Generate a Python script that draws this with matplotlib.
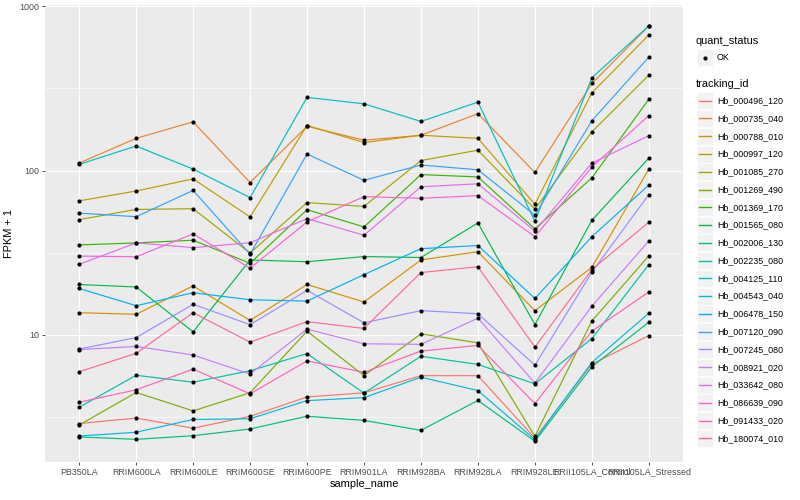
import numpy as np
import matplotlib
matplotlib.use("Agg")
import matplotlib.pyplot as plt
from matplotlib.patches import Rectangle
from matplotlib.lines import Line2D
from matplotlib.ticker import FixedLocator, NullFormatter

plt.rcParams['font.family'] = ['Liberation Sans', 'DejaVu Sans']

samples = ["PB350LA", "RRIM600LA", "RRIM600LE", "RRIM600SE", "RRIM600PE",
           "RRIM901LA", "RRIM928BA", "RRIM928LA", "RRIM928LE",
           "RRII105LA_Control", "RRII105LA_Stressed"]

tracking_ids = ["Hb_000496_120", "Hb_000735_040", "Hb_000788_010", "Hb_000997_120",
                "Hb_001085_270", "Hb_001269_490", "Hb_001369_170", "Hb_001565_080",
                "Hb_002006_130", "Hb_002235_080", "Hb_004125_110", "Hb_004543_040",
                "Hb_006478_150", "Hb_007120_090", "Hb_007245_080", "Hb_008921_020",
                "Hb_033642_080", "Hb_086639_090", "Hb_091433_020", "Hb_180074_010"]

# FPKM + 1 per sample
hb_000496_120 = [2.87, 3.10, 2.69, 3.18, 4.17, 4.42, 5.62, 5.62, 2.34, 6.61, 9.86]
hb_000735_040 = [111, 157, 198, 84.5, 186, 153, 164, 222, 97.3, 339, 759]
hb_000788_010 = [13.6, 13.3, 19.8, 12.2, 20.2, 15.8, 28.5, 32.0, 14.0, 25.7, 102]
hb_000997_120 = [65.3, 75.0, 88.9, 52.1, 188, 148, 164, 157, 62.3, 297, 670]
hb_001085_270 = [50.2, 57.9, 58.5, 31.4, 63.8, 60.4, 115, 133, 58.2, 172, 381]
hb_001269_490 = [2.81, 4.44, 3.43, 4.42, 10.5, 5.62, 10.1, 8.91, 2.40, 12.1, 30.2]
hb_001369_170 = [35.2, 36.2, 37.6, 27.2, 57.7, 45.3, 94.4, 91.4, 44.1, 90.2, 272]
hb_001565_080 = [20.2, 19.5, 10.4, 28.5, 27.8, 29.9, 29.5, 47.9, 11.5, 49.7, 119]
hb_002006_130 = [2.38, 2.30, 2.42, 2.66, 3.18, 3.00, 2.61, 3.97, 2.24, 6.36, 11.9]
hb_002235_080 = [3.61, 5.65, 5.13, 6.02, 7.66, 4.40, 7.38, 6.58, 5.01, 9.46, 26.7]
hb_004125_110 = [109, 141, 102, 68.4, 279, 255, 199, 261, 49.1, 367, 762]
hb_004543_040 = [2.41, 2.54, 3.04, 3.07, 3.96, 4.13, 5.50, 4.56, 2.29, 6.76, 13.5]
hb_006478_150 = [19.1, 15.0, 18.0, 16.3, 16.0, 23.2, 33.4, 34.9, 16.6, 39.5, 81.5]
hb_007120_090 = [55.0, 52.3, 75.6, 30.9, 126, 87.1, 108, 101, 53.5, 201, 491]
hb_007245_080 = [8.16, 9.59, 15.3, 11.5, 18.6, 11.8, 14.0, 13.4, 6.51, 24.0, 71.3]
hb_008921_020 = [8.10, 8.47, 7.51, 5.75, 10.8, 8.79, 8.72, 12.6, 5.06, 14.9, 37.2]
hb_033642_080 = [26.8, 36.2, 33.9, 36.3, 50.9, 40.3, 79.6, 83.0, 42.7, 111, 163]
hb_086639_090 = [30.1, 29.8, 41.1, 25.4, 48.6, 69.3, 67.7, 70.3, 39.5, 105, 216]
hb_091433_020 = [3.87, 4.61, 6.16, 4.36, 6.91, 5.89, 7.94, 8.59, 3.80, 10.5, 18.2]
hb_180074_010 = [5.94, 7.69, 13.6, 8.99, 12.0, 10.9, 23.9, 25.9, 8.39, 24.9, 48.4]

series = [hb_000496_120, hb_000735_040, hb_000788_010, hb_000997_120, hb_001085_270,
          hb_001269_490, hb_001369_170, hb_001565_080, hb_002006_130, hb_002235_080,
          hb_004125_110, hb_004543_040, hb_006478_150, hb_007120_090, hb_007245_080,
          hb_008921_020, hb_033642_080, hb_086639_090, hb_091433_020, hb_180074_010]

# ggplot hue palette for 20 levels
colors = ["#F8766D", "#EA8331", "#D89000", "#C09B00", "#A3A500", "#7CAE00", "#39B600",
          "#00BB4E", "#00BF7D", "#00C1A3", "#00BFC4", "#00BAE0", "#00B0F6", "#35A2FF",
          "#9590FF", "#C77CFF", "#E76BF3", "#FA62DB", "#FF62BC", "#FF6C91"]

W, H = 800, 500
fig = plt.figure(figsize=(W / 100, H / 100), dpi=100)
ax = fig.add_axes([45 / W, 38 / H, 638 / W, 457 / H])
ax.set_facecolor("#EBEBEB")
for s in ax.spines.values():
    s.set_visible(False)

x = np.arange(len(samples))
for vals, col in zip(series, colors):
    ax.plot(x, vals, color=col, lw=0.85, zorder=2)
for vals in series:
    ax.plot(x, vals, 'o', color='black', ms=3.0, mec='none', zorder=3)

ax.set_yscale('log')
allv = np.log10(np.concatenate([np.array(v, dtype=float) for v in series]))
lo, hi = allv.min(), allv.max()
pad = 0.05 * (hi - lo)
ax.set_ylim(10 ** (lo - pad), 10 ** (hi + pad))
ax.set_xlim(-0.6, len(samples) - 0.4)

ax.yaxis.set_major_locator(FixedLocator([10, 100, 1000]))
ax.set_yticklabels(["10", "100", "1000"])
ax.yaxis.set_minor_locator(FixedLocator([10 ** 0.5, 10 ** 1.5, 10 ** 2.5]))
ax.yaxis.set_minor_formatter(NullFormatter())
ax.set_xticks(x)
ax.set_xticklabels(samples)

ax.grid(which='major', color='white', lw=0.8)
ax.grid(which='minor', axis='y', color='white', lw=0.4)
ax.set_axisbelow(True)
ax.tick_params(which='major', length=2.2, width=0.6, color='#333333',
               labelsize=6.4, labelcolor='#4D4D4D', pad=1.8)
ax.tick_params(which='minor', length=0)

ax.set_xlabel("sample_name", fontsize=7.9, labelpad=2)
ax.set_ylabel("FPKM + 1", fontsize=7.9, labelpad=4)


def fx(px):
    return px / W


def fy(py):
    return 1 - py / H


# legend drawn by hand, in pixel positions
fig.text(fx(696), fy(41), "quant_status", fontsize=7.9, va='center', ha='left')
fig.patches.append(Rectangle((fx(697), fy(66)), 16 / W, 17 / H, transform=fig.transFigure,
                             facecolor='#F2F2F2', edgecolor='white', lw=0.5, zorder=1))
fig.lines.append(Line2D([fx(705)], [fy(57.5)], transform=fig.transFigure, marker='o',
                        color='black', ms=3.0, mec='none', zorder=5))
fig.text(fx(717), fy(57.5), "OK", fontsize=6.4, va='center', ha='left')

fig.text(fx(696), fy(84), "tracking_id", fontsize=7.9, va='center', ha='left')
for i, (tid, col) in enumerate(zip(tracking_ids, colors)):
    cy = 100.7 + 17.77 * i
    fig.patches.append(Rectangle((fx(697), fy(cy + 8.5)), 16 / W, 17 / H,
                                 transform=fig.transFigure, facecolor='#F2F2F2',
                                 edgecolor='white', lw=0.5, zorder=1))
    fig.lines.append(Line2D([fx(699), fx(711)], [fy(cy), fy(cy)], transform=fig.transFigure,
                            color=col, lw=1.0, zorder=5))
    fig.text(fx(717), fy(cy), tid, fontsize=6.4, va='center', ha='left')

fig.savefig("out.png", dpi=100)
